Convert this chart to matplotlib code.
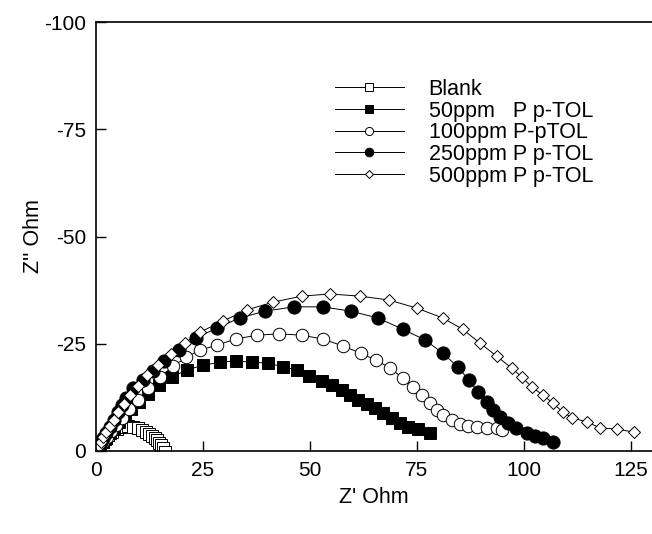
import matplotlib
matplotlib.use("Agg")
import matplotlib.pyplot as plt
import numpy as np

plt.rcParams['font.family'] = ['Liberation Sans', 'DejaVu Sans']

labels = ["Blank", "50ppm   P p-TOL", "100ppm P-pTOL", "250ppm P p-TOL", "500ppm P p-TOL"]

# Z' (Ohm) and -Z'' (Ohm) for each series
blank_x = [0.2, 0.5, 0.9, 1.4, 2.0, 2.8, 3.8, 5.0, 6.2, 7.4, 8.6, 9.8, 10.8, 11.7, 12.5, 13.2, 13.8, 14.3, 14.8, 15.2, 15.6, 16.1]
blank_y = [0.3, 0.8, 1.4, 2.1, 2.9, 3.7, 4.5, 5.2, 5.6, 5.8, 5.7, 5.4, 5.0, 4.5, 4.0, 3.5, 3.0, 2.5, 1.9, 1.3, 0.7, -0.2]

p50_x = [0.3, 0.9, 1.6, 2.4, 3.3, 4.3, 5.4, 6.7, 8.2, 10.0, 12.2, 14.8, 17.8, 21.3, 25.0, 29.0, 32.7, 36.4, 40.2, 43.7,
         47.0, 49.8, 52.8, 55.1, 57.5, 59.3, 61.2, 63.3, 65.2, 67.1, 69.2, 71.0, 72.9, 75.2, 78.0]
p50_y = [0.4, 1.2, 2.1, 3.1, 4.2, 5.4, 6.7, 8.1, 9.7, 11.5, 13.4, 15.4, 17.3, 18.9, 20.0, 20.7, 21.0, 20.7, 20.5, 19.6,
         18.9, 17.5, 16.3, 15.4, 14.2, 13.1, 11.9, 11.0, 10.0, 8.9, 7.7, 6.5, 5.6, 5.1, 4.2]

p100_x = [0.3, 0.9, 1.6, 2.5, 3.5, 4.7, 6.1, 7.8, 9.8, 12.2, 15.0, 18.0, 21.0, 24.3, 28.3, 32.7, 37.6, 42.8, 48.1, 53.0,
          57.7, 61.9, 65.4, 68.7, 71.7, 74.1, 76.2, 78.0, 79.7, 81.1, 83.2, 85.0, 86.9, 89.0, 91.4, 93.7, 94.9]
p100_y = [0.4, 1.2, 2.2, 3.3, 4.6, 6.1, 7.8, 9.8, 12.0, 14.6, 17.3, 19.7, 21.8, 23.5, 24.7, 26.1, 27.0, 27.3, 27.0, 26.1,
          24.5, 22.8, 21.2, 19.4, 17.0, 14.9, 13.1, 11.2, 9.6, 8.4, 7.2, 6.3, 5.8, 5.6, 5.4, 5.4, 4.9]

p250_x = [0.2, 0.6, 1.1, 1.7, 2.4, 3.2, 4.1, 5.1, 6.0, 7.0, 8.6, 11.0, 13.3, 15.9, 19.4, 23.4, 28.3, 33.6, 39.5, 46.3,
          53.0, 59.6, 65.9, 71.7, 76.9, 81.1, 84.6, 87.1, 89.3, 91.4, 92.8, 94.4, 96.3, 98.1, 100.7, 102.6, 104.4, 106.8]
p250_y = [0.4, 1.1, 2.0, 3.1, 4.3, 5.7, 7.3, 9.0, 10.7, 12.3, 14.7, 16.5, 18.6, 21.0, 23.5, 26.3, 28.7, 31.0, 32.6, 33.6,
          33.6, 32.6, 31.0, 28.4, 25.9, 22.8, 19.6, 16.6, 13.8, 11.4, 9.6, 7.9, 6.5, 5.4, 4.2, 3.5, 3.0, 2.1]

p500_x = [0.2, 0.6, 1.1, 1.7, 2.4, 3.2, 4.1, 5.2, 6.5, 8.0, 9.8, 12.0, 14.5, 17.5, 20.8, 24.3, 29.7, 35.3, 41.4, 48.1,
          54.7, 61.7, 68.5, 75.0, 81.1, 85.7, 89.7, 93.7, 97.2, 99.5, 101.9, 104.4, 106.8, 109.1, 111.4, 114.7, 117.8,
          121.7, 125.9]
p500_y = [0.4, 1.2, 2.1, 3.2, 4.4, 5.8, 7.3, 9.0, 10.9, 13.0, 15.2, 17.6, 20.0, 22.6, 25.2, 27.7, 30.3, 32.9, 34.7, 36.1,
          36.6, 36.1, 35.2, 33.3, 31.0, 28.4, 25.2, 22.1, 19.3, 17.3, 14.9, 13.1, 11.2, 9.1, 7.7, 6.8, 5.4,
          5.1, 4.4]

xticks = [0, 25, 50, 75, 100, 125]
yticks = [0, -25, -50, -75, -100]

fig = plt.figure(figsize=(6.52, 5.34), dpi=100)
ax = fig.add_axes([96/652, 83/534, 1 - 96/652, (451-22)/534])

series = [
    (blank_x, blank_y, dict(marker='s', mfc='white', ms=8.5)),
    (p50_x, p50_y, dict(marker='s', mfc='black', ms=8.5)),
    (p100_x, p100_y, dict(marker='o', mfc='white', ms=9)),
    (p250_x, p250_y, dict(marker='o', mfc='black', ms=9.5)),
    (p500_x, p500_y, dict(marker='D', mfc='white', ms=6.5)),
]
handles = []
for (xs, ys, st), lab in zip(series, labels):
    h, = ax.plot(np.array(xs), -np.array(ys), color='black', lw=0.7, mec='black', mew=0.7,
                 label=lab, **st)
    handles.append(h)

ax.set_xlim(0, 130)
ax.set_ylim(0, -100)
ax.set_xticks(xticks)
ax.set_xticklabels([str(t) for t in xticks])
ax.set_yticks(yticks)
ax.set_yticklabels([str(t) for t in yticks])
ax.tick_params(direction='in', length=7, width=1, labelsize=15, pad=7, top=False, right=False)
ax.spines['right'].set_visible(False)
for s in ['left', 'bottom', 'top']:
    ax.spines[s].set_linewidth(1.2)

ax.set_xlabel("Z' Ohm", fontsize=15.5, labelpad=5)
ax.set_ylabel("Z'' Ohm", fontsize=15.5, labelpad=0)

leg = ax.legend(handles=handles, loc='upper left', bbox_to_anchor=((335-96)/556, (451-79)/429),
                frameon=False, fontsize=15.5, handlelength=3.2, handletextpad=1.15,
                labelspacing=0.03, markerscale=0.65, numpoints=1, borderpad=0, borderaxespad=0)

fig.savefig("out.png", dpi=100)
